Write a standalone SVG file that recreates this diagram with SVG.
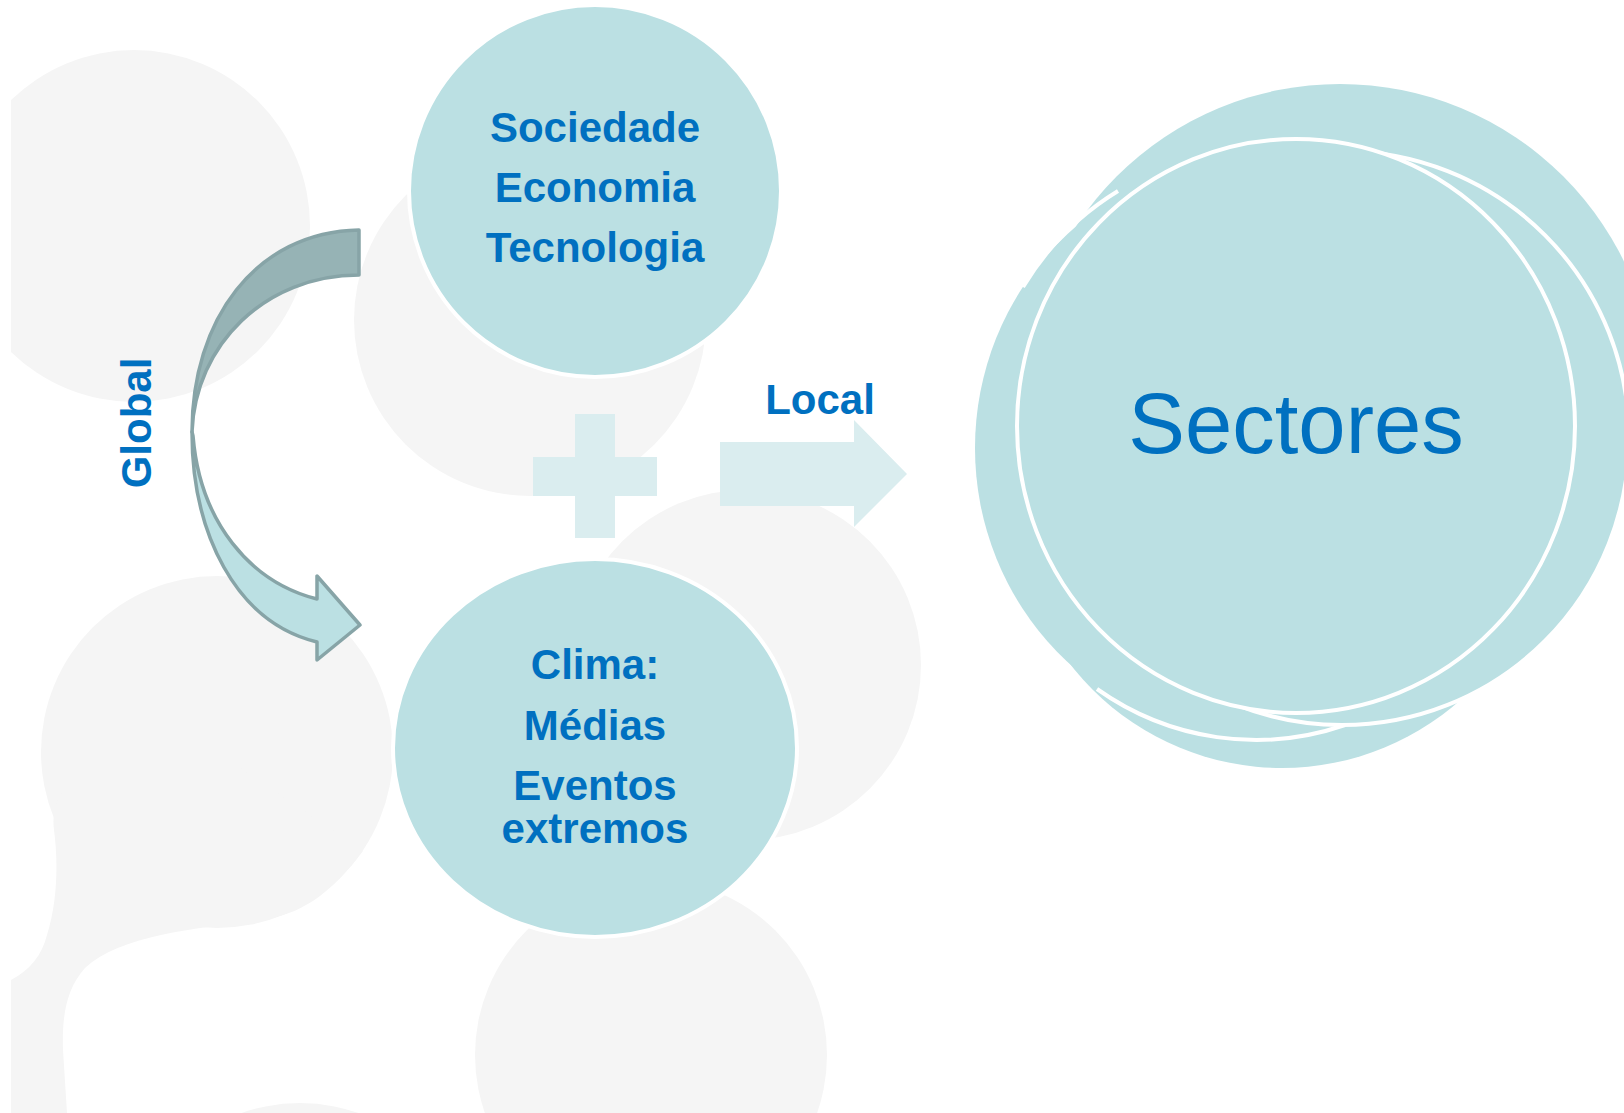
<svg xmlns="http://www.w3.org/2000/svg" width="1624" height="1113" viewBox="0 0 1624 1113">
<defs>
<style>
.bg{fill:#F5F5F5}
.ring{fill:#BBE0E3;stroke:#FFFFFF;stroke-width:4}
.fill{fill:#BBE0E3}
.arc{fill:none;stroke:#FFFFFF;stroke-width:4}
.lbl{font-family:"Liberation Sans",Arial,sans-serif;font-weight:bold;font-size:42px;fill:#0070C0;text-anchor:middle}
.big{font-family:"Liberation Sans",Arial,sans-serif;font-size:85px;fill:#0070C0;text-anchor:middle}
.pale{fill:#DAEDEF}
.aline{stroke:#87A4A7;stroke-width:3.5;stroke-linejoin:round}
</style>
<clipPath id="bgclip"><rect x="11" y="0" width="1613" height="1113"/></clipPath>
<clipPath id="topclip"><rect x="900" y="0" width="724" height="450"/></clipPath>
</defs>
<rect width="1624" height="1113" fill="#FFFFFF"/>
<g id="background" clip-path="url(#bgclip)">
<circle class="bg" cx="134" cy="226" r="176"/>
<circle class="bg" cx="530" cy="320" r="176"/>
<circle class="bg" cx="746" cy="665" r="175"/>
<circle class="bg" cx="217" cy="752" r="176"/>
<path class="bg" d="M 11,980 C 30,970 42,955 47,935 C 58,900 58,860 54,830 C 52,815 55,800 70,780 L 217,752 L 363,851 C 330,895 300,915 260,920 C 200,928 120,935 85,968 C 65,990 62,1020 63,1050 L 67,1113 L 11,1113 Z"/>
<circle class="bg" cx="651" cy="1055" r="176"/>
<circle class="bg" cx="300" cy="1279" r="176"/>
</g>
<g id="connectors">
<g id="global-arrow">
<path class="aline" fill="#96B3B5" d="M 359,230 C 255,232 192,320 192,432 C 195,345 265,275 359,275 Z"/>
<path class="aline" fill="#BBE0E3" d="M 192,432 C 192,532 235,622 317,642 L 317,660 L 360,625 L 317,576 L 317,599 C 250,582 200,522 193,436 Z"/>
</g>
<polygon id="local-arrow" class="pale" points="720,442 854,442 854,420 907,474 854,527 854,506 720,506"/>
</g>
<g id="plus" class="pale">
<rect x="575" y="414" width="40" height="124"/>
<rect x="533" y="457" width="124" height="39"/>
</g>
<text id="label-global" class="lbl" transform="translate(151,423) rotate(-90)">Global</text>
<text id="label-local" class="lbl" x="820" y="414">Local</text>
<g id="node-sociedade">
<circle class="ring" cx="595" cy="191" r="186"/>
<text class="lbl" x="595" y="142">Sociedade</text>
<text class="lbl" x="595" y="202">Economia</text>
<text class="lbl" x="595" y="262">Tecnologia</text>
</g>
<g id="node-clima">
<ellipse class="ring" cx="595" cy="748" rx="202" ry="189"/>
<text class="lbl" x="595" y="679">Clima:</text>
<text class="lbl" x="595" y="740">Médias</text>
<text class="lbl" x="595" y="800">Eventos</text>
<text class="lbl" x="595" y="843">extremos</text>
</g>
<g id="node-sectores">
<circle class="fill" cx="1340" cy="400" r="316" clip-path="url(#topclip)"/>
<circle class="fill" cx="1282" cy="500" r="268"/>
<ellipse class="fill" cx="1255" cy="448" rx="280" ry="288"/>
<path class="arc" d="M 1118,191 A 280 288 0 0 0 1023,287"/>
<path class="arc" d="M 1097,689 A 280 288 0 0 0 1345,725"/>
<circle class="ring" cx="1342" cy="438" r="287"/>
<ellipse class="ring" cx="1296" cy="426" rx="279" ry="287"/>
<text class="big" x="1296" y="453">Sectores</text>
</g>
</svg>
